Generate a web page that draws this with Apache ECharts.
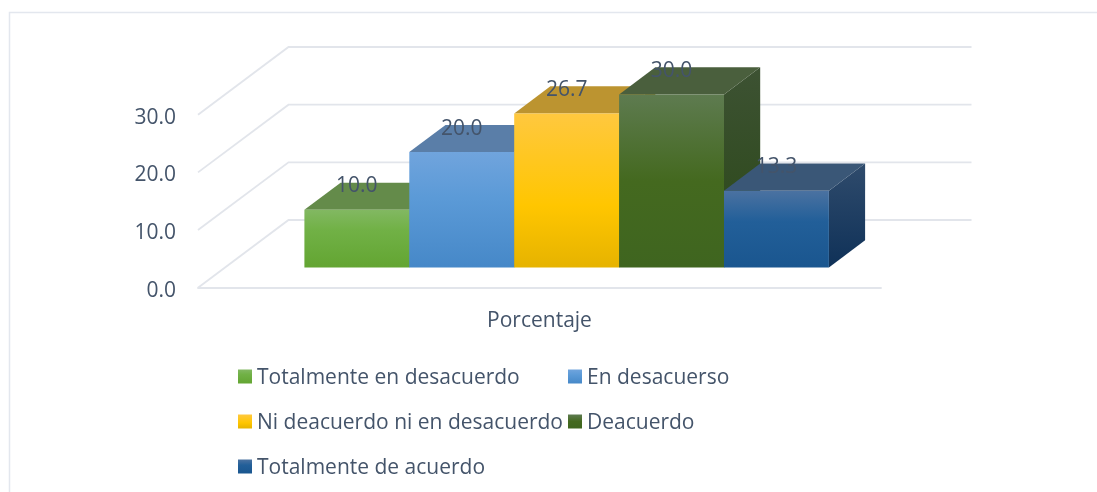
<!DOCTYPE html>
<html>
<head>
<meta charset="utf-8">
<style>html,body{margin:0;padding:0;background:#fff}#c{width:1097px;height:492px}</style>
<script src="https://cdn.jsdelivr.net/npm/echarts@6/dist/echarts.min.js"></script>
</head>
<body>
<div id="c"></div>
<script>
const categories = ['Porcentaje'];
const seriesNames = ['Totalmente en desacuerdo','En desacuerso','Ni deacuerdo ni en desacuerdo','Deacuerdo','Totalmente de acuerdo'];
const seriesValues = [10.0, 20.0, 26.7, 30.0, 13.3];
const tickValues = [0, 10, 20, 30];

const FONT = '"Open Sans"';
const TEXT = '#44546a';
const GRID = '#e2e5eb';
// 3D look: depth vector of the floor, the plane of the bars within it, and bar width as band share
const DEPTH = [90.5, -67.7], BAR_T = 0.3, BAR_DEPTH_T = 0.4, BAR_SHARE = 104.9 / 683;

function vg(stops){return new echarts.graphic.LinearGradient(0,0,0,1,stops.map(s=>({offset:s[0],color:s[1]})));}
function dg(a,b){return new echarts.graphic.LinearGradient(0,0,0,1,[{offset:0,color:a},{offset:1,color:b}]);}
const faces = [
 {front:[[0,'#82b862'],[0.35,'#71b146'],[1,'#63a532']], top:'#648b4a', side:['#4f7a33','#3f6a20']},
 {front:[[0,'#70a4dd'],[0.4,'#5b9ad7'],[1,'#4688c8']], top:'#5a7ea8', side:['#41688f','#2e5a85']},
 {front:[[0,'#ffc83f'],[0.6,'#ffc600'],[1,'#e6b300']], top:'#bc9430', side:['#a8831f','#8f7010']},
 {front:[[0,'#5e7b50'],[0.5,'#44691f'],[1,'#3f651f']], top:'#4a5f3d', side:['#3d5233','#2a4816']},
 {front:[[0,'#4b72a1'],[0.4,'#225f99'],[1,'#1a568f']], top:'#3a5777', side:['#2f4b6c','#0f3158']}
];

function wallItem(params, api){
  const p = api.coord([0, api.value(1)]);
  const s = api.size([1,0])[0];
  const left = p[0] - s/2;
  const bx = left + DEPTH[0], by = p[1] + DEPTH[1];
  const st = {stroke:GRID, lineWidth:1.8, fill:null};
  return {type:'group', children:[
    {type:'polyline', shape:{points:[[left,p[1]],[bx,by],[bx+s,by]]}, style:st, silent:true}
  ]};
}

function barItem(idx){
  return function(params, api){
    const top = api.coord([0, api.value(1)]);
    const base = api.coord([0, 0]);
    const band = api.size([1,0])[0];
    const w = band * BAR_SHARE;
    const ox = DEPTH[0]*BAR_T, oy = DEPTH[1]*BAR_T;
    const dx = DEPTH[0]*BAR_DEPTH_T, dy = DEPTH[1]*BAR_DEPTH_T;
    const x0 = base[0] + ox - w*seriesValues.length/2 + w*idx;
    const x1 = x0 + w;
    const yT = top[1] + oy, yB = base[1] + oy;
    const f = faces[idx];
    return {type:'group', children:[
      {type:'polygon', shape:{points:[[x1,yT],[x1+dx,yT+dy],[x1+dx,yB+dy],[x1,yB]]}, style:{fill:dg(f.side[0],f.side[1])}},
      {type:'polygon', shape:{points:[[x0,yT],[x0+dx,yT+dy],[x1+dx,yT+dy],[x1,yT]]}, style:{fill:f.top}},
      {type:'rect', shape:{x:x0,y:yT,width:w,height:yB-yT}, style:{fill:vg(f.front)}},
      {type:'text', style:{text:api.value(1).toFixed(1), x:(x0+x1)/2, y:yT-23.3, align:'center', verticalAlign:'middle',
        font:'21px '+FONT, fill:TEXT}, z2:100}
    ]};
  };
}

const legendPos = [[238,368],[568,368],[238,413],[568,413],[238,458]];
const chart = echarts.init(document.getElementById('c'), null, {renderer:'canvas', width:1097, height:492});
chart.setOption({
  animation:false,
  backgroundColor:'#fff',
  grid:{left:198, right:216, top:114.7, bottom:204.3, containLabel:false},
  xAxis:{type:'category', data:categories, axisTick:{show:false},
    axisLine:{lineStyle:{color:GRID,width:1.8}},
    axisLabel:{color:TEXT, fontFamily:FONT, fontSize:21, margin:23}},
  yAxis:{type:'value', min:0, max:30, interval:10, splitLine:{show:false}, axisLine:{show:false}, axisTick:{show:false},
    axisLabel:{color:TEXT, fontFamily:FONT, fontSize:21, margin:22, formatter:v=>'{a|'+v.toFixed(1)+'}',
      rich:{a:{color:TEXT, fontFamily:FONT, fontSize:21, padding:[6,0,0,0]}}}},
  legend:seriesNames.map((n,i)=>({
    data:[{name:n, icon:'rect', itemStyle:{color:vg(faces[i].front)}}],
    left:legendPos[i][0], top:legendPos[i][1], padding:0, itemWidth:14, itemHeight:14, itemGap:0,
    selectedMode:false, formatter:'{a|{name}}',
    textStyle:{color:TEXT, fontFamily:FONT, fontSize:21,
      rich:{a:{color:TEXT, fontFamily:FONT, fontSize:21, padding:[4,0,0,0]}}}
  })),
  graphic:[{type:'polyline', silent:true, shape:{points:[[1097,12.5],[9.5,12.5],[9.5,492]]}, style:{stroke:'#e3e7ee',lineWidth:1.5,fill:null}}],
  series:[
    {type:'custom', name:'wall', silent:true, clip:false, renderItem:wallItem, encode:{x:0,y:1},
     data:tickValues.map(v=>[0,v]), z:1}
  ].concat(seriesNames.map((n,i)=>({
    type:'custom', name:n, clip:false, renderItem:barItem(i), encode:{x:0,y:1},
    itemStyle:{color:vg(faces[i].front)}, data:[[0,seriesValues[i]]], z:2+i
  })))
});
</script>
</body>
</html>
